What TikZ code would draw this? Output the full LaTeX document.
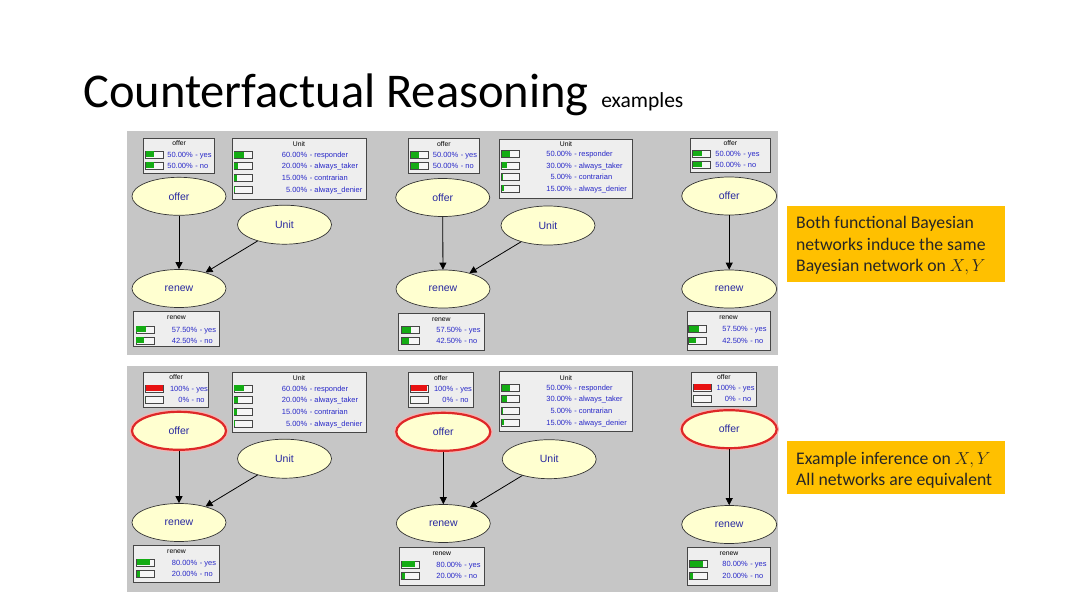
\documentclass[tikz,border=0pt]{standalone}
\usepackage{fontspec}
\setmainfont{Carlito}
\newfontfamily\uifont{Liberation Sans}
\usetikzlibrary{shapes.geometric,arrows.meta}
\definecolor{panelgray}{RGB}{198,198,198}
\definecolor{tabbg}{RGB}{238,238,238}
\definecolor{tabedge}{RGB}{70,70,70}
\definecolor{barbg}{RGB}{246,246,246}
\definecolor{bargreen}{RGB}{20,172,20}
\definecolor{barred}{RGB}{232,18,18}
\definecolor{nodefill}{RGB}{255,255,208}
\definecolor{probblue}{RGB}{40,40,200}
\definecolor{labelblue}{RGB}{40,40,160}
\definecolor{evred}{RGB}{222,40,40}
\definecolor{noteyellow}{RGB}{255,192,0}
% #1 bar left, #2 row y, #3 fraction, #4 colour, #5 right edge of percentage, #6 percentage, #7 state
\newcommand\bnrow[7]{%
  \filldraw[barframe] (#1,#2-3.5) rectangle ++(18,7);
  \fill[#4] (#1+0.6,#2-2.9) rectangle ++({16.8*#3},5.8);
  \node[probtxt,anchor=base east] at (#5,#2+2.7) {#6};
  \node[probtxt,anchor=base west] at (#5,#2+2.7) {\ - #7};
}
\begin{document}
\begin{tikzpicture}[x=1pt,y=-1pt,
  panelbg/.style={fill=panelgray,draw=none},
  tbox/.style={draw=tabedge,fill=tabbg,line width=0.8,inner sep=0},
  ttl/.style={font=\uifont\fontsize{6.8}{7}\selectfont,text=black,inner sep=0},
  probtxt/.style={font=\uifont\fontsize{7.5}{8}\selectfont,text=probblue,inner sep=0},
  barframe/.style={draw=tabedge,fill=barbg,line width=0.6},
  bn/.style={ellipse,draw=black!80,fill=nodefill,line width=0.7,minimum width=94,minimum height=38,inner sep=0,font=\uifont\fontsize{10.5}{12}\selectfont,text=labelblue},
  bnred/.style={bn,draw=evred,line width=2.2,preaction={draw=evred!35,line width=4.6}},
  arr/.style={-{Triangle[length=7pt,width=7pt]},line width=0.8,draw=black},
  notebox/.style={fill=noteyellow,draw=none,inner sep=0},
  notetext/.style={font=\fontsize{17.7}{21.7}\selectfont,text=black!85,inner sep=0,anchor=base west},
]
\useasboundingbox (0,0) rectangle (1080,608);
\fill[white] (0,0) rectangle (1080,608);

% title
\node[inner sep=0,anchor=base west,font=\fontsize{48.5}{50}\selectfont] (title) at (83,107.5) {Counterfactual Reasoning};
\node[inner sep=0,anchor=base west,font=\fontsize{21.5}{24}\selectfont] (subtitle) at ([xshift=12pt]title.base east) {examples};

% panels
\fill[panelbg] (127,131) rectangle (778,355);
\fill[panelbg] (127,366) rectangle (778,592);

% ================= Panel A (top left)
\node[tbox,minimum width=71,minimum height=35] (otA) at (179.2,155.8) {};
\node[ttl] (ottA) at (179.2,143.3) {offer};
\bnrow{145.3}{154.3}{.5}{bargreen}{193}{50.00\%}{yes}
\bnrow{145.3}{165.3}{.5}{bargreen}{193}{50.00\%}{no}
\node[tbox,minimum width=134,minimum height=60.7] (utA) at (299,168.7) {};
\node[ttl] (uttA) at (299,144.3) {Unit};
\bnrow{233.8}{154.7}{.6}{bargreen}{307.5}{60.00\%}{responder}
\bnrow{233.8}{166}{.2}{bargreen}{307.5}{20.00\%}{always\_taker}
\bnrow{233.8}{177.6}{.15}{bargreen}{307.5}{15.00\%}{contrarian}
\bnrow{233.8}{189.3}{.05}{bargreen}{307.5}{5.00\%}{always\_denier}
\node[bn] (offerA) at (179,196.3) {offer};
\node[bn,minimum height=39] (unitA) at (284.5,224.7) {Unit};
\node[bn] (renewA) at (179,288.5) {renew};
\node[tbox,minimum width=85.6,minimum height=35.7] (rtA) at (176.5,328.9) {};
\node[ttl] (rttA) at (176.5,317.3) {renew};
\bnrow{135.8}{329.3}{.575}{bargreen}{197.5}{57.50\%}{yes}
\bnrow{135.8}{340.3}{.425}{bargreen}{197.5}{42.50\%}{no}
\draw[arr] (offerA) -- (renewA);
\draw[arr] (unitA) -- (renewA);

% ================= Panel B (top middle)
\node[tbox,minimum width=71,minimum height=35] (otB) at (443.8,156.2) {};
\node[ttl] (ottB) at (443.8,144) {offer};
\bnrow{410}{154.8}{.5}{bargreen}{458.5}{50.00\%}{yes}
\bnrow{410}{165.8}{.5}{bargreen}{458.5}{50.00\%}{no}
\node[tbox,minimum width=133.4,minimum height=59.3] (utB) at (566,168.65) {};
\node[ttl] (uttB) at (566,144.3) {Unit};
\bnrow{501}{154}{.5}{bargreen}{572}{50.00\%}{responder}
\bnrow{501}{165.3}{.3}{bargreen}{572}{30.00\%}{always\_taker}
\bnrow{501}{176.7}{.05}{bargreen}{572}{5.00\%}{contrarian}
\bnrow{501}{188.3}{.15}{bargreen}{572}{15.00\%}{always\_denier}
\node[bn] (offerB) at (442.7,197.5) {offer};
\node[bn,minimum height=39] (unitB) at (548,225.5) {Unit};
\node[bn] (renewB) at (443,289) {renew};
\node[tbox,minimum width=86,minimum height=37.4] (rtB) at (441.3,332) {};
\node[ttl] (rttB) at (441.3,319.3) {renew};
\bnrow{401}{330}{.575}{bargreen}{462}{57.50\%}{yes}
\bnrow{401}{341}{.425}{bargreen}{462}{42.50\%}{no}
\draw[arr] (offerB) -- (renewB);
\draw[arr] (unitB) -- (renewB);

% ================= Panel C (top right)
\node[tbox,minimum width=79.3,minimum height=34] (otC) at (730.35,155.3) {};
\node[ttl] (ottC) at (730.3,143) {offer};
\bnrow{692.7}{153.5}{.5}{bargreen}{741}{50.00\%}{yes}
\bnrow{692.7}{164.5}{.5}{bargreen}{741}{50.00\%}{no}
\node[bn,minimum width=95] (offerC) at (729.2,196) {offer};
\node[bn,minimum width=95] (renewC) at (729.2,289) {renew};
\node[tbox,minimum width=82.7,minimum height=39] (rtC) at (728.65,330.5) {};
\node[ttl] (rttC) at (728.6,318) {renew};
\bnrow{688.5}{329}{.575}{bargreen}{748}{57.50\%}{yes}
\bnrow{688.5}{340.5}{.425}{bargreen}{748}{42.50\%}{no}
\draw[arr] (offerC) -- (renewC);

% ================= Panel D (bottom left)
\node[tbox,minimum width=65,minimum height=35] (otD) at (176.2,389.8) {};
\node[ttl] (ottD) at (176.2,377.5) {offer};
\bnrow{145.3}{388.3}{1}{barred}{189.4}{100\%}{yes}
\bnrow{145.3}{399.3}{0}{bargreen}{189.4}{0\%}{no}
\node[tbox,minimum width=134,minimum height=60.4] (utD) at (299,402.5) {};
\node[ttl] (uttD) at (299,378.3) {Unit};
\bnrow{233.8}{388.3}{.6}{bargreen}{307.5}{60.00\%}{responder}
\bnrow{233.8}{400}{.2}{bargreen}{307.5}{20.00\%}{always\_taker}
\bnrow{233.8}{411.7}{.15}{bargreen}{307.5}{15.00\%}{contrarian}
\bnrow{233.8}{423.3}{.05}{bargreen}{307.5}{5.00\%}{always\_denier}
\node[bnred] (offerD) at (179,430.8) {offer};
\node[bn,minimum height=39] (unitD) at (284.5,458.7) {Unit};
\node[bn] (renewD) at (179,522.5) {renew};
\node[tbox,minimum width=85.6,minimum height=37.7] (rtD) at (176.5,563.85) {};
\node[ttl] (rttD) at (176.5,551.7) {renew};
\bnrow{136}{562.3}{.8}{bargreen}{197.5}{80.00\%}{yes}
\bnrow{136}{574}{.2}{bargreen}{197.5}{20.00\%}{no}
\draw[arr] (offerD) -- (renewD);
\draw[arr] (unitD) -- (renewD);

% ================= Panel E (bottom middle)
\node[tbox,minimum width=65,minimum height=35.4] (otE) at (440.8,390) {};
\node[ttl] (ottE) at (440.8,378.3) {offer};
\bnrow{410}{388.3}{1}{barred}{453.4}{100\%}{yes}
\bnrow{410}{399.7}{0}{bargreen}{453.4}{0\%}{no}
\node[tbox,minimum width=133.4,minimum height=60] (utE) at (566,401.7) {};
\node[ttl] (uttE) at (566,377.7) {Unit};
\bnrow{501}{387.7}{.5}{bargreen}{572}{50.00\%}{responder}
\bnrow{501}{399}{.3}{bargreen}{572}{30.00\%}{always\_taker}
\bnrow{501}{410.7}{.05}{bargreen}{572}{5.00\%}{contrarian}
\bnrow{501}{422.3}{.15}{bargreen}{572}{15.00\%}{always\_denier}
\node[bnred] (offerE) at (443.3,431.8) {offer};
\node[bn,minimum height=39] (unitE) at (549.2,459.2) {Unit};
\node[bn] (renewE) at (443.3,523.5) {renew};
\node[tbox,minimum width=85,minimum height=37.3] (rtE) at (441.8,566.3) {};
\node[ttl] (rttE) at (441.8,554) {renew};
\bnrow{401}{564.3}{.8}{bargreen}{462}{80.00\%}{yes}
\bnrow{401}{575.7}{.2}{bargreen}{462}{20.00\%}{no}
\draw[arr] (offerE) -- (renewE);
\draw[arr] (unitE) -- (renewE);

% ================= Panel F (bottom right)
\node[tbox,minimum width=65.7,minimum height=34.4] (otF) at (723.8,389.5) {};
\node[ttl] (ottF) at (723.8,376.7) {offer};
\bnrow{693.3}{387.3}{1}{barred}{736}{100\%}{yes}
\bnrow{693.3}{398.3}{0}{bargreen}{736}{0\%}{no}
\node[bnred,minimum width=95] (offerF) at (729.2,429.2) {offer};
\node[bn,minimum width=95] (renewF) at (729.2,524.5) {renew};
\node[tbox,minimum width=83.3,minimum height=37.3] (rtF) at (729,566.3) {};
\node[ttl] (rttF) at (729,554) {renew};
\bnrow{689.3}{564}{.8}{bargreen}{748}{80.00\%}{yes}
\bnrow{689.3}{575.7}{.2}{bargreen}{748}{20.00\%}{no}
\draw[arr] (offerF) -- (renewF);

% ================= notes
\node[notebox,minimum width=218,minimum height=76,anchor=north west] (noteA) at (787,205.5) {};
\node[notetext] (noteA1) at (796,228.3) {Both functional Bayesian};
\node[notetext] (noteA2) at (796,250) {networks induce the same};
\node[notetext] (noteA3) at (796,271.7) {Bayesian network on $X,Y$};
\node[notebox,minimum width=218,minimum height=53,anchor=north west] (noteB) at (787,440.3) {};
\node[notetext] (noteB1) at (796,464.3) {Example inference on $X,Y$};
\node[notetext] (noteB2) at (796,485.8) {All networks are equivalent};
\end{tikzpicture}
\end{document}
